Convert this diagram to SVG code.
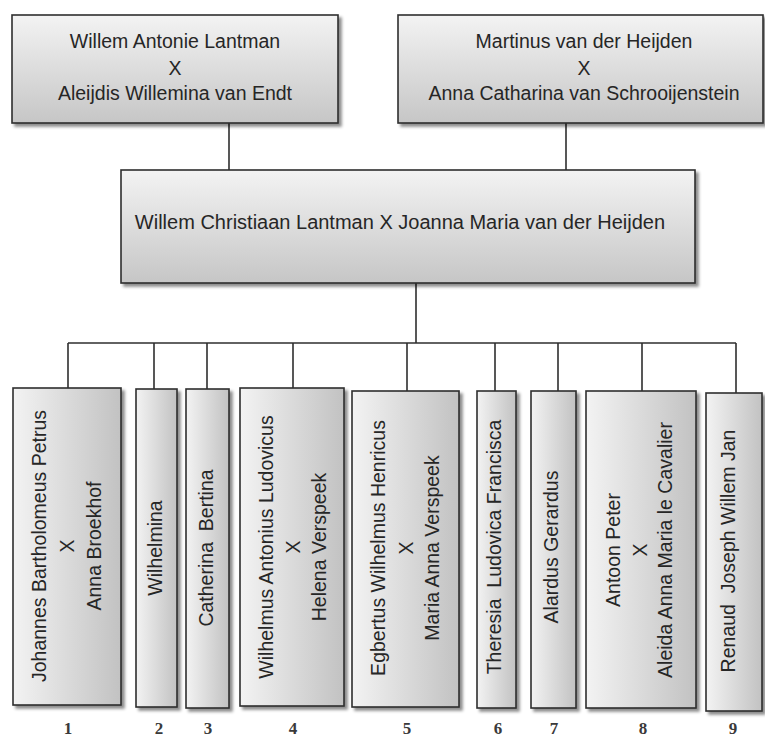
<svg xmlns="http://www.w3.org/2000/svg" width="765" height="740" viewBox="0 0 765 740">
  <style>
    .box { stroke: #2e2e2e; stroke-width: 1.6; filter: url(#sh); }
    .h { fill: url(#gv); }
    .v { fill: url(#gh); }
    .t { font-family: "Liberation Sans", Arial, sans-serif; font-size: 19.5px; fill: #262626; text-anchor: middle; white-space: pre; }
    .m { font-size: 20px; }
    .n { font-family: "Liberation Serif", "Times New Roman", serif; font-size: 17px; font-weight: bold; fill: #3a3a3a; text-anchor: middle; }
    .c { stroke: #2e2e2e; stroke-width: 1.6; fill: none; }
  </style>
  <defs>
    <linearGradient id="gv" x1="0" y1="0" x2="0" y2="1">
      <stop offset="0" stop-color="#f3f3f3"/>
      <stop offset="1" stop-color="#c6c6c6"/>
    </linearGradient>
    <linearGradient id="gh" x1="0" y1="0" x2="1" y2="0">
      <stop offset="0" stop-color="#f3f3f3"/>
      <stop offset="1" stop-color="#c2c2c2"/>
    </linearGradient>
    <filter id="sh" x="-10%" y="-10%" width="130%" height="130%">
      <feDropShadow dx="3" dy="3" stdDeviation="1.5" flood-color="#000" flood-opacity="0.45"/>
    </filter>
  </defs>

  <g id="connectors">
    <path class="c" d="M229 123 V170"/>
    <path class="c" d="M566 123 V170"/>
    <path class="c" d="M416 283 V343"/>
    <path class="c" d="M68 343 H736"/>
    <path class="c" d="M68 343 V388"/>
    <path class="c" d="M154 343 V389"/>
    <path class="c" d="M207 343 V389"/>
    <path class="c" d="M293 343 V388"/>
    <path class="c" d="M407 343 V391"/>
    <path class="c" d="M495 343 V391"/>
    <path class="c" d="M558 343 V391"/>
    <path class="c" d="M642 343 V391"/>
    <path class="c" d="M736 343 V393"/>
  </g>

  <g id="parents-lantman">
    <rect class="box h" x="12" y="15" width="326" height="108"/>
    <text class="t" x="175" y="48">Willem Antonie Lantman</text>
    <text class="t" x="175" y="75">X</text>
    <text class="t" x="175" y="100">Aleijdis Willemina van Endt</text>
  </g>

  <g id="parents-heijden">
    <rect class="box h" x="398" y="15" width="365" height="108"/>
    <text class="t" x="584" y="48">Martinus van der Heijden</text>
    <text class="t" x="584" y="75">X</text>
    <text class="t" x="584" y="100">Anna Catharina van Schrooijenstein</text>
  </g>

  <g id="couple">
    <rect class="box h" x="121" y="170" width="574" height="113"/>
    <text class="t m" x="400" y="229">Willem Christiaan Lantman X Joanna Maria van der Heijden</text>
  </g>

  <g id="child1">
    <rect class="box v" x="13" y="388" width="108" height="317"/>
    <text class="t" transform="translate(39 546) rotate(-90)" dy="0.36em">Johannes Bartholomeus Petrus</text>
    <text class="t" transform="translate(67 546) rotate(-90)" dy="0.36em">X</text>
    <text class="t" transform="translate(94 546) rotate(-90)" dy="0.36em">Anna Broekhof</text>
  </g>

  <g id="child2">
    <rect class="box v" x="136" y="389" width="41" height="318"/>
    <text class="t" transform="translate(155 548) rotate(-90)" dy="0.36em">Wilhelmina</text>
  </g>

  <g id="child3">
    <rect class="box v" x="186" y="389" width="43" height="319"/>
    <text class="t" transform="translate(206 548) rotate(-90)" dy="0.36em">Catherina  Bertina</text>
  </g>

  <g id="child4">
    <rect class="box v" x="240" y="388" width="104" height="318"/>
    <text class="t" transform="translate(266 547) rotate(-90)" dy="0.36em">Wilhelmus Antonius Ludovicus</text>
    <text class="t" transform="translate(293 547) rotate(-90)" dy="0.36em">X</text>
    <text class="t" transform="translate(319 547) rotate(-90)" dy="0.36em">Helena Verspeek</text>
  </g>

  <g id="child5">
    <rect class="box v" x="352" y="391" width="107" height="316"/>
    <text class="t" transform="translate(378 548) rotate(-90)" dy="0.36em">Egbertus Wilhelmus Henricus</text>
    <text class="t" transform="translate(406 548) rotate(-90)" dy="0.36em">X</text>
    <text class="t" transform="translate(432 548) rotate(-90)" dy="0.36em">Maria Anna Verspeek</text>
  </g>

  <g id="child6">
    <rect class="box v" x="477" y="391" width="39" height="317"/>
    <text class="t" transform="translate(494 547) rotate(-90)" dy="0.36em">Theresia  Ludovica Francisca</text>
  </g>

  <g id="child7">
    <rect class="box v" x="531" y="391" width="45" height="317"/>
    <text class="t" transform="translate(551 547) rotate(-90)" dy="0.36em">Alardus Gerardus</text>
  </g>

  <g id="child8">
    <rect class="box v" x="586" y="391" width="110" height="317"/>
    <text class="t" transform="translate(613 550) rotate(-90)" dy="0.36em">Antoon Peter</text>
    <text class="t" transform="translate(640 550) rotate(-90)" dy="0.36em">X</text>
    <text class="t" transform="translate(665 550) rotate(-90)" dy="0.36em">Aleida Anna Maria le Cavalier</text>
  </g>

  <g id="child9">
    <rect class="box v" x="706" y="393" width="56" height="318"/>
    <text class="t" transform="translate(728 551) rotate(-90)" dy="0.36em">Renaud  Joseph Willem Jan</text>
  </g>

  <g id="numbers">
    <text class="n" x="68" y="734">1</text>
    <text class="n" x="159" y="734">2</text>
    <text class="n" x="208" y="734">3</text>
    <text class="n" x="293" y="734">4</text>
    <text class="n" x="407" y="734">5</text>
    <text class="n" x="498" y="734">6</text>
    <text class="n" x="554" y="734">7</text>
    <text class="n" x="643" y="734">8</text>
    <text class="n" x="733" y="734">9</text>
  </g>
</svg>
